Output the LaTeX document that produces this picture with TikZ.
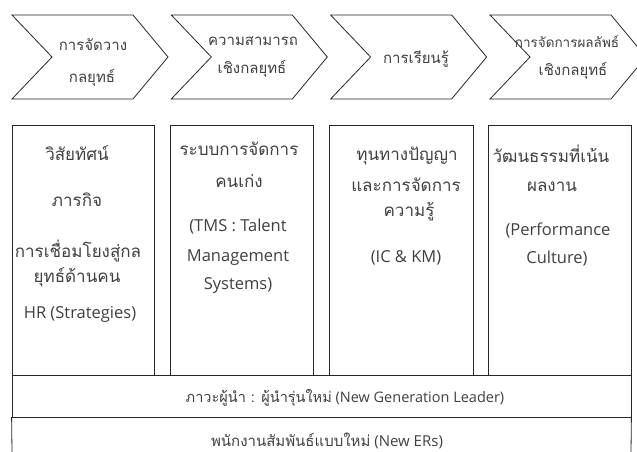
\documentclass[tikz,border=0pt]{standalone}
\usepackage{fontspec}
\setmainfont{Open Sans}
\newfontfamily\thf[Script=Thai]{Loma}
\begin{document}
\begin{tikzpicture}[x=1pt,y=-1pt,
  shp/.style={draw=black!85, line width=0.8pt, fill=white},
  boxnode/.style={shp, rectangle, inner sep=0pt, minimum height=250pt},
  txt/.style={anchor=base, inner sep=0pt, text=black!75, font=\fontsize{15}{18}\selectfont},
  thtxt/.style={txt, font=\fontsize{15}{18}\selectfont\thf},
  btxt/.style={txt, font=\fontsize{16.5}{20}\selectfont},
  bthtxt/.style={txt, font=\fontsize{17}{20}\selectfont\thf},
]
\useasboundingbox (0,0) rectangle (637,452);
% chevrons
\foreach \l in {12,171.3,330.6,490}{
  \draw[shp] (\l,15) -- ({\l+121},15) -- ({\l+156},57) -- ({\l+121},99)
    -- (\l,99) -- ({\l+40},57) -- cycle;
}
\node[thtxt] (c1a) at (93,50.5) {การจัดวาง};
\node[thtxt] (c1b) at (92,82.5) {กลยุทธ์};
\node[thtxt] (c2a) at (253,45.5) {ความสามารถ};
\node[thtxt] (c2b) at (252,73.5) {เชิงกลยุทธ์};
\node[thtxt] (c3a) at (416,63.5) {การเรียนรู้};
\node[txt, font=\fontsize{13.5}{16}\selectfont\thf] (c4a) at (567,47.5) {การจัดการผลลัพธ์};
\node[thtxt] (c4b) at (573,75.5) {เชิงกลยุทธ์};
% boxes
\node[boxnode, minimum width=142pt] (b1) at (83,250) {};
\node[boxnode, minimum width=143pt] (b2) at (241.5,250) {};
\node[boxnode, minimum width=144pt] (b3) at (401,250) {};
\node[boxnode, minimum width=143pt] (b4) at (559.5,250) {};
% box 1
\node[bthtxt] (t1a) at (77,160) {วิสัยทัศน์};
\node[bthtxt] (t1b) at (77,206) {ภารกิจ};
\node[bthtxt] (t1c) at (78,257) {การเชื่อมโยงสู่กล};
\node[bthtxt] (t1d) at (77,282) {ยุทธ์ด้านคน};
\node[btxt] (t1e) at (80,318) {HR (Strategies)};
% box 2
\node[bthtxt] (t2a) at (239,155) {ระบบการจัดการ};
\node[bthtxt] (t2b) at (239,187) {คนเก่ง};
\node[btxt] (t2c) at (238,231) {(TMS : Talent};
\node[btxt] (t2d) at (238,261) {Management};
\node[btxt] (t2e) at (238,289) {Systems)};
% box 3
\node[bthtxt] (t3a) at (407,160) {ทุนทางปัญญา};
\node[bthtxt] (t3b) at (406,191) {และการจัดการ};
\node[bthtxt] (t3c) at (409,216) {ความรู้};
\node[btxt] (t3d) at (406,262) {(IC \& KM)};
% box 4
\node[bthtxt] (t4a) at (551,162) {วัฒนธรรมที่เน้น};
\node[bthtxt] (t4b) at (552,191) {ผลงาน};
\node[btxt] (t4c) at (558,235) {(Performance};
\node[btxt] (t4d) at (557,263) {Culture)};
% bars
\node[shp, rectangle, inner sep=0pt, minimum width=619pt, minimum height=42pt] (lead) at (321.5,396) {};
\node[txt, font=\fontsize{14.5}{18}\selectfont] (leadt) at (345,402.5) {{\thf ภาวะผู้นำ : ผู้นำรุ่นใหม่} (New Generation Leader)};
\coordinate (e1) at (12,452);
\coordinate (e2) at (631,452);
\draw[draw=black!85, line width=0.8pt] (e1) -- (lead.south west) -- (lead.south east) -- (e2);
\node[txt] (bott) at (327,446) {{\thf พนักงานสัมพันธ์แบบใหม่} (New ERs)};
\end{tikzpicture}
\end{document}
